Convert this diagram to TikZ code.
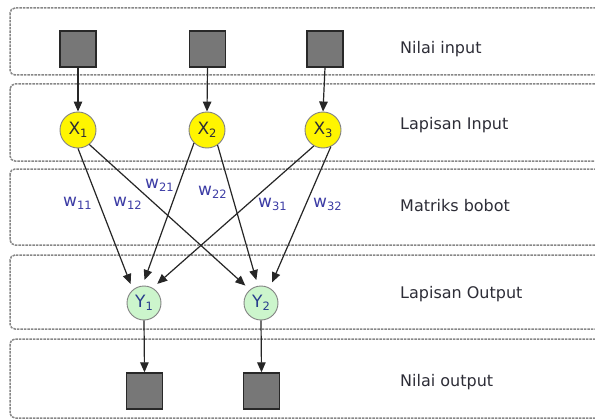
\documentclass[tikz,border=0pt]{standalone}
\usepackage{fontspec}
\setmainfont{DejaVu Sans}
\usetikzlibrary{arrows.meta}
\definecolor{bandgray}{RGB}{135,135,135}
\definecolor{sqfill}{RGB}{119,119,119}
\definecolor{sqedge}{RGB}{40,40,40}
\definecolor{xfill}{RGB}{255,245,0}
\definecolor{yfill}{RGB}{204,245,204}
\definecolor{circedge}{RGB}{130,130,130}
\definecolor{wblue}{RGB}{60,60,165}
\definecolor{ytext}{RGB}{40,60,140}
\definecolor{labtext}{RGB}{45,45,55}
\newcommand{\subtxt}[2]{#1\raisebox{-3pt}{\fontsize{11.5}{11.5}\selectfont #2}}
\tikzset{
  band/.style={draw=bandgray, line width=1.5pt, dash pattern=on 2.5pt off 1pt, rounded corners=5pt},
  sq/.style={draw=sqedge, fill=sqfill, line width=1.4pt, minimum size=36pt, inner sep=0pt},
  xnode/.style={circle, draw=circedge, fill=xfill, line width=0.9pt, minimum size=36pt, inner sep=0pt, text=labtext, font=\fontsize{17}{17}\selectfont},
  ynode/.style={circle, draw=circedge, fill=yfill, line width=0.9pt, minimum size=34pt, inner sep=0pt, text=ytext, font=\fontsize{17}{17}\selectfont},
  conn/.style={draw=black!85, line width=1.2pt, -{Triangle[length=10pt,width=8.5pt]}},
  wlab/.style={anchor=base west, inner sep=0pt, text=wblue, font=\fontsize{17}{17}\selectfont},
  rowlab/.style={anchor=base west, inner sep=0pt, text=labtext, font=\fontsize{16}{16}\selectfont}
}
\begin{document}
\begin{tikzpicture}[x=1pt,y=-1pt]
\useasboundingbox (0,0) rectangle (595,420);
\clip (0,0) rectangle (595,420);
\fill[white] (0,0) rectangle (595,420);
% bands
\draw[band] (10,8) rectangle (620,75);
\draw[band] (10,84) rectangle (620,161);
\draw[band] (10,169) rectangle (620,245);
\draw[band] (10,255) rectangle (620,329);
\draw[band] (10,339) rectangle (620,418);
% input squares
\node[sq] (I1) at (78,49) {};
\node[sq] (I2) at (207.5,49) {};
\node[sq] (I3) at (325,49) {};
% input layer
\node[xnode] (X1) at (78,130) {\subtxt{X}{1}};
\node[xnode] (X2) at (207,130) {\subtxt{X}{2}};
\node[xnode] (X3) at (323,130) {\subtxt{X}{3}};
% output layer
\node[ynode] (Y1) at (144,303) {\subtxt{Y}{1}};
\node[ynode] (Y2) at (261,303) {\subtxt{Y}{2}};
% output squares
\node[sq] (O1) at (144.5,391) {};
\node[sq] (O2) at (261.5,391) {};
% vertical arrows
\draw[conn] (I1.south) -- (X1.north);
\draw[conn] (I2.south) -- (X2.north);
\draw[conn] (I3.south) -- (X3.north);
\draw[conn] (Y1.south) -- (O1.north);
\draw[conn] (Y2.south) -- (O2.north);
% weights
\draw[conn, shorten >=6pt] (X1.-90) -- (Y1.130);
\draw[conn, shorten >=6pt] (X1.-52) -- (Y2.130);
\draw[conn, shorten >=6pt] (X2.-135) -- (Y1.95);
\draw[conn, shorten >=6pt] (X2.-55) -- (Y2.100);
\draw[conn, shorten >=6pt] (X3.-120) -- (Y1.60);
\draw[conn, shorten >=6pt] (X3.-65) -- (Y2.60);
% weight labels
\node[wlab] (w11) at (63,206) {\subtxt{w}{11}};
\node[wlab] (w12) at (113,206) {\subtxt{w}{12}};
\node[wlab] (w21) at (145,188) {\subtxt{w}{21}};
\node[wlab] (w22) at (198,195) {\subtxt{w}{22}};
\node[wlab] (w31) at (258,207) {\subtxt{w}{31}};
\node[wlab] (w32) at (313,207) {\subtxt{w}{32}};
% row labels
\node[rowlab] (L1) at (400,54) {Nilai input};
\node[rowlab] (L2) at (400,129) {Lapisan Input};
\node[rowlab] (L3) at (400,211) {Matriks bobot};
\node[rowlab] (L4) at (400,298) {Lapisan Output};
\node[rowlab] (L5) at (400,386) {Nilai output};
\end{tikzpicture}
\end{document}
